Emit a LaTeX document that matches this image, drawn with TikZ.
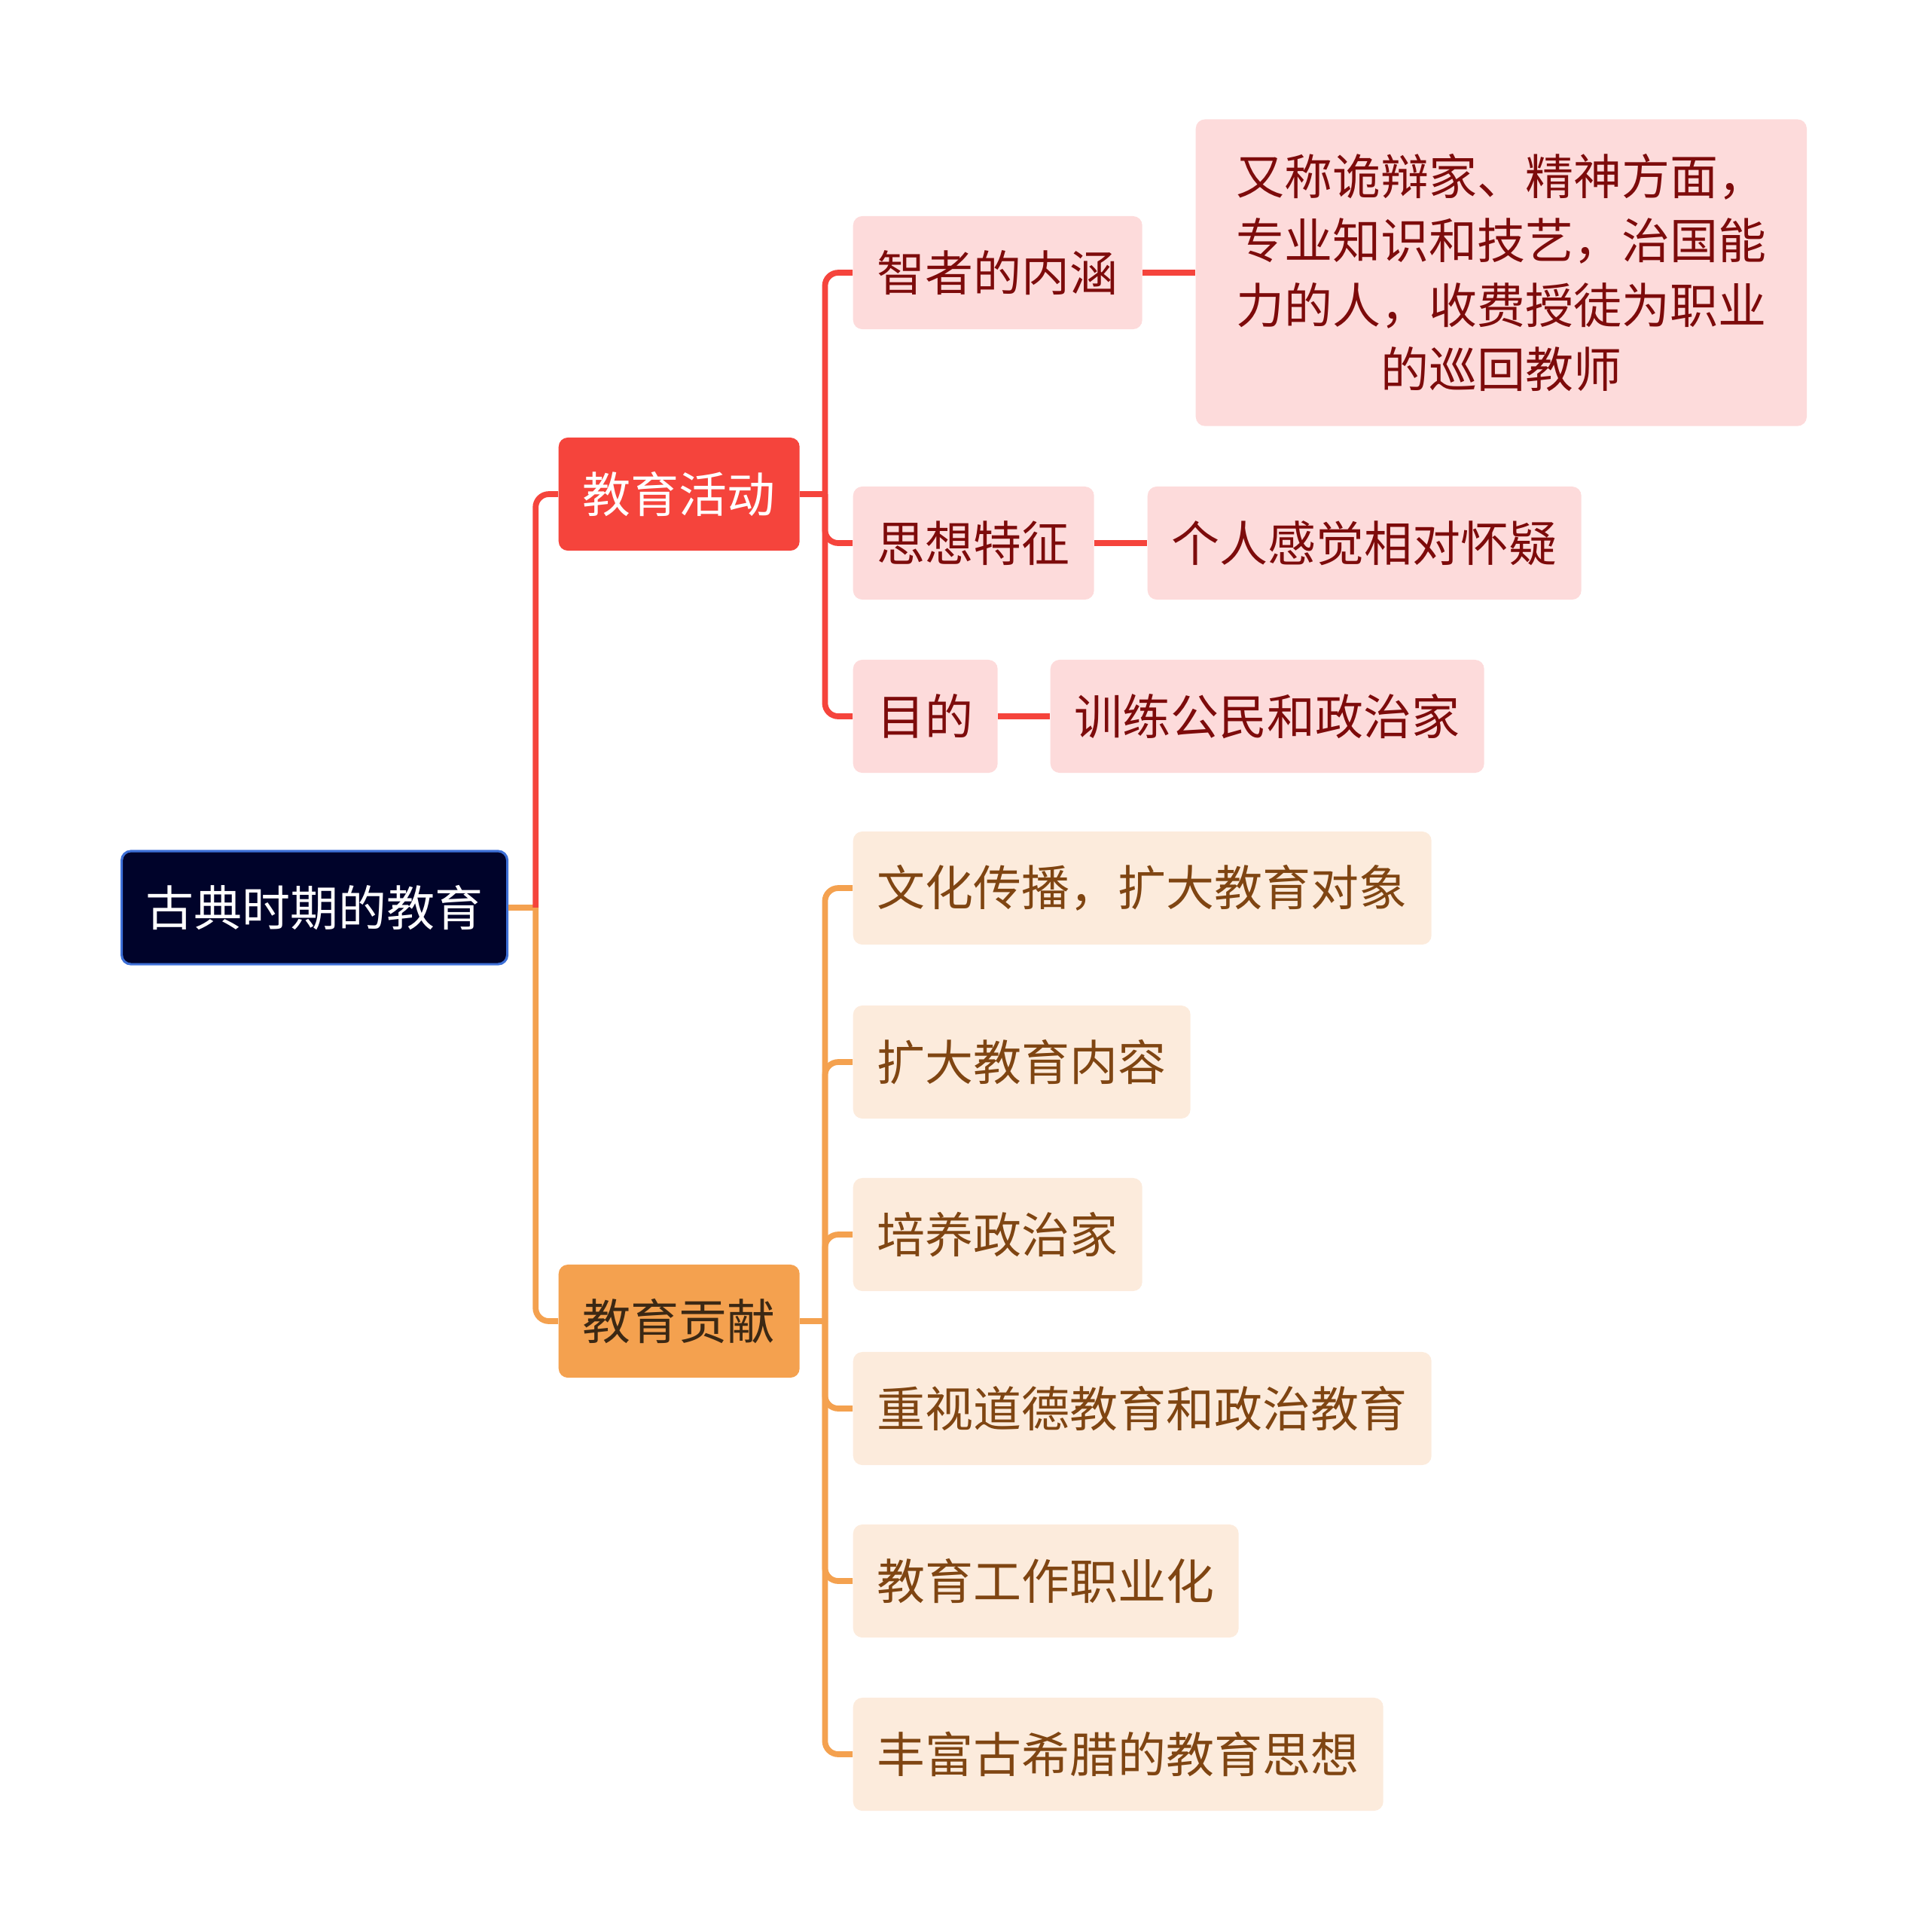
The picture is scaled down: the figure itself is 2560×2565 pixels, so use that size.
\documentclass[tikz,border=0pt]{standalone}
\usepackage{fontspec}
\newfontfamily\cjk{Noto Sans CJK SC}
\usetikzlibrary{calc}

\definecolor{rootfill}{HTML}{00032A}
\definecolor{rootdraw}{HTML}{3D6FD6}
\definecolor{actfill}{HTML}{F5443C}
\definecolor{contribfill}{HTML}{F4A14F}
\definecolor{contribtext}{HTML}{3B2814}
\definecolor{redleaffill}{HTML}{FDDBDB}
\definecolor{redleaftext}{HTML}{7D0B0B}
\definecolor{orangeleaffill}{HTML}{FCEBDC}
\definecolor{orangeleaftext}{HTML}{7F4512}

\begin{document}
\begin{tikzpicture}[
	x=0.01cm, y=-0.01cm,
	box/.style={
		rectangle,
		rounded corners=3.5pt,
		font=\cjk\fontsize{18.2}{24.2}\selectfont,
		inner xsep=9.1pt,
		inner ysep=0pt,
		minimum height=42.7pt,
		anchor=west
	},
	rootbox/.style={box, fill=rootfill, draw=rootdraw, line width=0.9pt, text=white},
	actbox/.style={box, fill=actfill, text=white},
	contribbox/.style={box, fill=contribfill, text=contribtext},
	redleaf/.style={box, fill=redleaffill, text=redleaftext},
	orangeleaf/.style={box, fill=orangeleaffill, text=orangeleaftext},
	redline/.style={actfill, line width=2.2pt},
	orangeline/.style={contribfill, line width=2.2pt},
]

\useasboundingbox (0,0) rectangle (2560,2565);

% main branches
\node[rootbox] (root) at (160,1205) {古典时期的教育};
\node[actbox] (act) at (741,656) {教育活动};
\node[contribbox] (contrib) at (741,1754) {教育贡献};

\coordinate (rootJ) at ($(root.east)+(36,0)$);
\draw[orangeline] (root.east) -- (rootJ);
\draw[redline, rounded corners=5pt] (rootJ) |- (act.west);
\draw[orangeline, rounded corners=5pt] (rootJ) |- (contrib.west);

% 教育活动
\node[redleaf] (sage) at (1132,362) {智者的内涵};
\node[redleaf, align=center, minimum width=230.7pt, minimum height=115.8pt] (sagetxt) at (1587,362)
	{又称诡辩家、精神方面，\\专业知识和技艺，治国能\\力的人，收费授徒为职业\\的巡回教师};
\node[redleaf] (idea) at (1132,721) {思想特征};
\node[redleaf] (ideatxt) at (1523,721) {个人感觉相对怀疑};
\node[redleaf] (goal) at (1132,951) {目的};
\node[redleaf] (goaltxt) at (1394,951) {训练公民和政治家};

\coordinate (actJ) at ($(act.east)+(33,0)$);
\draw[redline] (act.east) -- (actJ);
\foreach \n in {sage,idea,goal} {
	\draw[redline, rounded corners=5pt] (actJ) |- (\n.west);
}
\draw[redline] (sage.east) -- (sagetxt.west);
\draw[redline] (idea.east) -- (ideatxt.west);
\draw[redline] (goal.east) -- (goaltxt.west);

% 教育贡献
\coordinate (contribJ) at ($(contrib.east)+(33,0)$);
\draw[orangeline] (contrib.east) -- (contribJ);
\foreach \i/\y/\txt in {1/1179/文化传播，扩大教育对象,
		2/1410/扩大教育内容,
		3/1639/培养政治家,
		4/1870/重视道德教育和政治教育,
		5/2099/教育工作职业化,
		6/2329/丰富古希腊的教育思想} {
	\node[orangeleaf] (c\i) at (1132,\y) {\txt};
	\draw[orangeline, rounded corners=5pt] (contribJ) |- (c\i.west);
}

\end{tikzpicture}
\end{document}
